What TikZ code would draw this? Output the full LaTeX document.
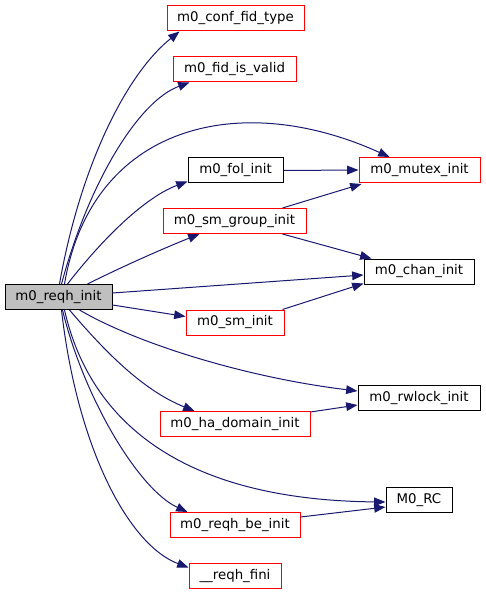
\documentclass[tikz,border=0pt]{standalone}
\usepackage{fontspec}
\setmainfont{DejaVu Sans}
\usetikzlibrary{arrows.meta,calc}
\definecolor{edgeblue}{HTML}{191970}
\definecolor{boxred}{HTML}{FF0000}
\definecolor{mainfill}{HTML}{BFBFBF}
\tikzset{
  fn/.style={draw=black,line width=0.75pt,rectangle,inner sep=0pt,minimum height=18.75pt,font=\fontsize{10pt}{12pt}\selectfont},
  fnred/.style={fn,draw=boxred},
  fnmain/.style={fn,fill=mainfill},
  call/.style={draw=edgeblue,line width=0.75pt,-{Triangle[length=8.5pt,width=6.5pt]},fill=none},
}
\begin{document}
\begin{tikzpicture}[x=0.75pt,y=-0.75pt]
\useasboundingbox (0,0) rectangle (485,595);
% nodes
\node[fnmain,minimum width=80.25pt] (reqh) at (58.5,297) {m0\_reqh\_init};
\node[fnred,minimum width=102.75pt] (conf) at (235.5,18.5) {m0\_conf\_fid\_type};
\node[fnred,minimum width=92.25pt] (fidv) at (234.5,69.5) {m0\_fid\_is\_valid};
\node[fn,minimum width=71.25pt] (fol) at (235.5,170.5) {m0\_fol\_init};
\node[fnred,minimum width=107.25pt] (smg) at (234.5,221) {m0\_sm\_group\_init};
\node[fnred,minimum width=73.5pt] (smi) at (235,322.5) {m0\_sm\_init};
\node[fnred,minimum width=112.5pt] (ha) at (235,424) {m0\_ha\_domain\_init};
\node[fnred,minimum width=97.5pt] (be) at (235,525) {m0\_reqh\_be\_init};
\node[fnred,minimum width=69pt] (fini) at (235,575.5) {\_\_reqh\_fini};
\node[fnred,minimum width=90.75pt] (mutex) at (419.5,170) {m0\_mutex\_init};
\node[fn,minimum width=82.5pt] (chan) at (419,271.5) {m0\_chan\_init};
\node[fn,minimum width=91.5pt] (rwlock) at (419,398) {m0\_rwlock\_init};
\node[fn,minimum width=49.5pt] (rc) at (419,500) {M0\_RC};
% edges from m0_reqh_init
\draw[call] ($(reqh.north west)+(55,0)$) .. controls +(20,-114) and +(-55,44) .. ($(conf.south west)+(13,0)$);
\draw[call] ($(reqh.north west)+(57,0)$) .. controls +(28,-104) and +(-50,18) .. ($(fidv.south west)+(17,0)$);
\draw[call] ($(reqh.north west)+(60,0)$) .. controls +(27,-159) and +(-150,-68) .. ($(mutex.north west)+(31,0)$);
\draw[call] ($(reqh.north west)+(63,0)$) .. controls +(42,-54) and +(-38,14) .. ($(fol.south west)+(0,-2)$);
\draw[call] ($(reqh.north west)+(83,0)$) .. controls +(32,-16) and +(-40,16) .. ($(smg.south west)+(37,0)$);
\draw[call] ($(reqh.north east)+(0,9)$) -- ($(chan.west)+(0,3.5)$);
\draw[call] ($(reqh.north east)+(0,21)$) -- ($(smi.west)+(0,-6)$);
\draw[call] ($(reqh.south west)+(75,0)$) .. controls +(60,35) and +(-108,-13) .. ($(rwlock.west)+(0,-7)$);
\draw[call] ($(reqh.south west)+(65,0)$) .. controls +(30,35) and +(-55,-22) .. ($(ha.north west)+(35,0)$);
\draw[call] ($(reqh.south west)+(60,0)$) .. controls +(25,110) and +(-206,-2) .. ($(rc.west)+(0,2)$);
\draw[call] ($(reqh.south west)+(58,0)$) .. controls +(22,90) and +(-48,-22) .. ($(be.north west)+(18,0)$);
\draw[call] ($(reqh.south west)+(57,0)$) .. controls +(16,140) and +(-59,-22) .. ($(fini.west)+(0,-8)$);
% secondary edges
\draw[call] (fol.east) -- (mutex.west);
\draw[call] ($(smg.north east)+(-24,0)$) -- ($(mutex.south west)+(3,1)$);
\draw[call] ($(smg.south east)+(-24,0)$) -- ($(chan.north west)+(8,0)$);
\draw[call] ($(smi.north east)+(-2,0)$) -- ($(chan.south west)+(0,-1)$);
\draw[call] ($(ha.north east)+(0,1)$) -- ($(rwlock.west)+(0,7)$);
\draw[call] ($(be.east)+(0,-8)$) -- ($(rc.west)+(0,7)$);
\end{tikzpicture}
\end{document}
